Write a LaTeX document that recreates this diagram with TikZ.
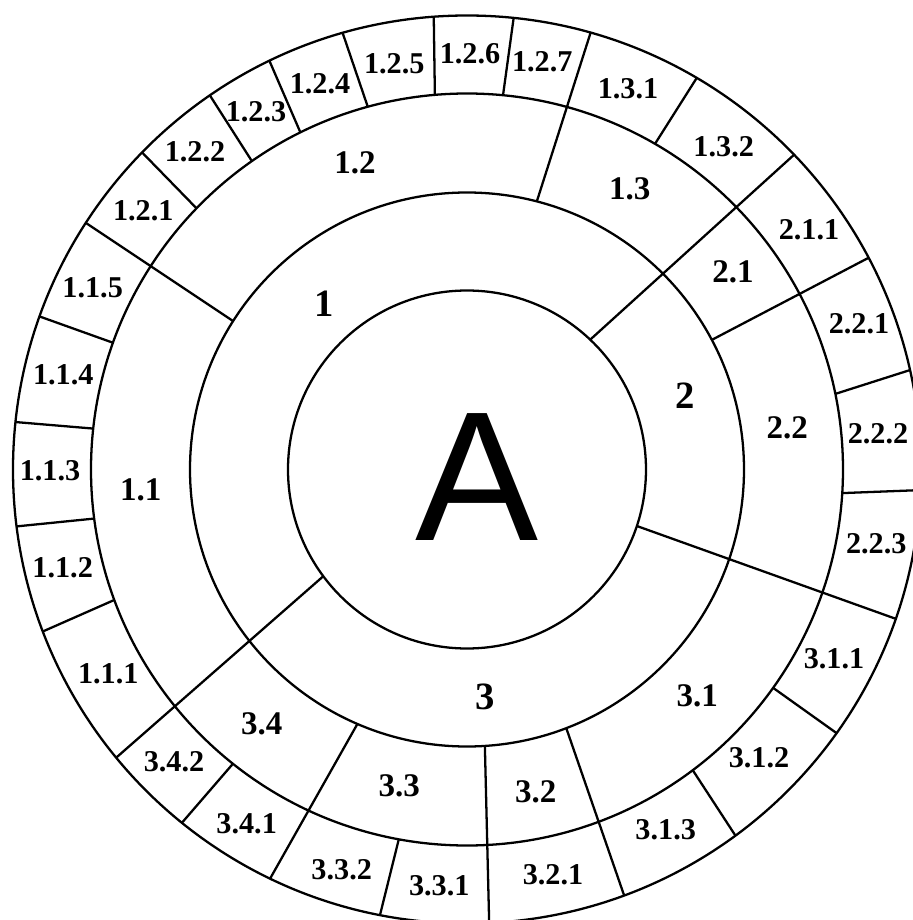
\documentclass[tikz,border=0pt]{standalone}
\usepackage{fontspec}
\setmainfont{Liberation Serif}
\newfontfamily\rootfont{Liberation Sans}
\usepackage{tikz}

\begin{document}
\begin{tikzpicture}[
  x=0.02cm, y=0.02cm,
  ring/.style     = {line width=1.3pt, draw=black},
  divider/.style  = {line width=1.3pt, draw=black},
  rootnode/.style = {inner sep=0pt, font=\rootfont\fontsize{105}{105}\selectfont},
  lvlone/.style   = {inner sep=0pt, font=\bfseries\fontsize{22}{22}\selectfont},
  lvltwo/.style   = {inner sep=0pt, font=\bfseries\fontsize{18.8}{18.8}\selectfont},
  lvlthree/.style = {inner sep=0pt, font=\bfseries\fontsize{17.2}{17.2}\selectfont},
]
\useasboundingbox (-467,-450.5) rectangle (446,469.5);

%% --- Rings ---
\foreach \r in {179,277,376,454} {
  \draw[ring] (0,0) circle[radius=\r];
}

%% --- Dividers (start angle / end angle / start radius) ---
\foreach \a/\b/\r in {46.5/43.9/179, -18.4/-19.2/179, 216.6/219.4/179,
    147.6/147.1/277, 75.4/74.2/277, 27.9/27.8/277,
    -69/-69.75/277, -86.3/-87.2/277, -113.3/-115.7/277,
    173.75/174/376, 160.3/160.3/376, 136/135.7/376, 124.9/124.5/376,
    116.3/115.8/376, 105.3/105.9/376, 94.9/94.2/376, 84.5/84.1/376,
    60/59.6/376, 11.6/12.65/376, -3.6/-2.6/376, -35.5/-35.5/376,
    -53.1/-53.75/376, -100.45/-101.05/376, -128.5/-128.9/376,
    200.3/200.9/376, 187.5/187.2/376} {
  \draw[divider] (\a:\r) -- (\b:454);
}

%% --- Root ---
\node[rootnode] (root) at (9.7,-7.5) {A};

%% --- First level ---
\node[lvlone] (n1) at (-143,165.5) {1};
\node[lvlone] (n2) at (217.7,73.5) {2};
\node[lvlone] (n3) at (17.7,-227.8) {3};

%% --- Second level ---
\foreach \lab/\nm/\x/\y in {1.1/11/-326.3/-20.5, 1.2/12/-112/306.8, 1.3/13/162.7/281.2,
    2.1/21/266/197.8, 2.2/22/320.3/42.2, 3.1/31/230.3/-226.5,
    3.2/32/68.7/-322.2, 3.3/33/-67.7/-316.5, 3.4/34/-205.3/-254.5} {
  \node[lvltwo] (n\nm) at (\x,\y) {\lab};
}

%% --- Third level ---
\foreach \lab/\nm/\x/\y in {1.1.1/111/-358.7/-203.8, 1.1.2/112/-404.3/-97.8,
    1.1.3/113/-417/-1.5, 1.1.4/114/-403.7/94.5, 1.1.5/115/-374.3/182.2,
    1.2.1/121/-323.7/258.8, 1.2.2/122/-272/317.8, 1.2.3/123/-211/357.8,
    1.2.4/124/-147/386.2, 1.2.5/125/-72.7/406.2, 1.2.6/126/3/416.2,
    1.2.7/127/75.3/407.8, 1.3.1/131/161/381.2, 1.3.2/132/256.7/322.8,
    2.1.1/211/342/239.5, 2.2.1/221/392/146.2, 2.2.2/222/411/36.2,
    2.2.3/223/409.3/-73.8, 3.1.1/311/367/-188.8, 3.1.2/312/292/-288.2,
    3.1.3/313/198.7/-360.5, 3.2.1/321/86/-404.8, 3.3.1/331/-27.7/-416.5,
    3.3.2/332/-125.3/-399.8, 3.4.1/341/-220.3/-353.8, 3.4.2/342/-293/-292.2} {
  \node[lvlthree] (n\nm) at (\x,\y) {\lab};
}

\end{tikzpicture}
\end{document}
